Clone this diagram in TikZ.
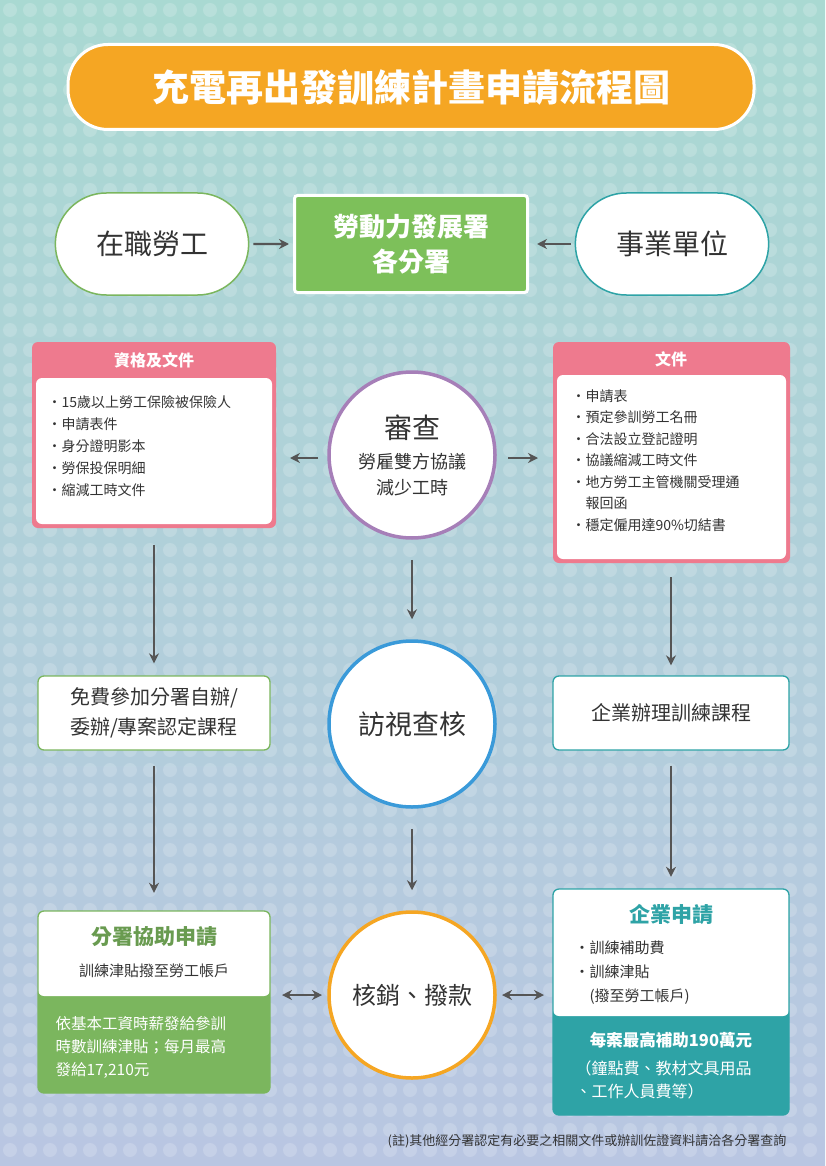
\documentclass[tikz,border=0pt]{standalone}
\usepackage{fontspec}
\setmainfont{Noto Sans CJK TC}
\usetikzlibrary{arrows.meta,shapes.misc}
\definecolor{bgtop}{HTML}{A9D9D2}
\definecolor{bgbot}{HTML}{B9C6E2}
\definecolor{org}{HTML}{F5A623}
\definecolor{grn}{HTML}{7BB65E}
\definecolor{grnf}{HTML}{7DC05A}
\definecolor{tealc}{HTML}{2EA3A6}
\definecolor{pinkc}{HTML}{EE7A8E}
\definecolor{purp}{HTML}{A67FB8}
\definecolor{bluec}{HTML}{3A9AD9}
\definecolor{txt}{HTML}{333333}
\definecolor{arr}{HTML}{555555}
\begin{document}
\begin{tikzpicture}[x=1pt,y=-1pt,
  conn/.style={draw=arr,line width=2.2pt,-{Stealth[length=10pt,width=10pt]}},
  dconn/.style={draw=arr,line width=2.2pt,{Stealth[length=10pt,width=10pt]}-{Stealth[length=10pt,width=10pt]}},
  circ/.style={circle,fill=white,line width=3.5pt,minimum size=166pt,inner sep=0pt,align=center,text=txt},
  pill/.style={rounded rectangle,fill=white,line width=1.5pt,minimum width=200pt,minimum height=102pt,font=\fontsize{28}{30}\selectfont,text=txt},
  box/.style={fill=white,rounded corners=6pt,line width=1.3pt,align=center,text=txt},
  lst/.style={align=left,text=txt,font=\fontsize{14}{22}\selectfont,anchor=north west}]
\shade[top color=bgtop,bottom color=bgbot] (0,0) rectangle (825,1166);
\useasboundingbox (0,0) rectangle (825,1166);
\foreach \i in {0,...,40}{\foreach \j in {0,...,57}{
  \fill[white,opacity=0.18] (\i*20+10,\j*20+10) circle (7pt);}}
% title
\node[fill=org,draw=white,line width=3pt,rounded corners=40pt,minimum width=686pt,minimum height=85pt,text=white,font=\fontsize{37}{40}\selectfont\bfseries] (title) at (411,87) {充電再出發訓練計畫申請流程圖};
% top row
\node[pill,draw=grn] (worker) at (152,244) {在職勞工};
\node[fill=grnf,draw=white,line width=3pt,rounded corners=3pt,minimum width=233pt,minimum height=97pt,text=white,align=center,font=\fontsize{26}{35}\selectfont\bfseries] (wda) at (411,244) {勞動力發展署\\各分署};
\node[pill,draw=tealc] (firm) at (672,244) {事業單位};
\draw[conn,shorten <=4pt,shorten >=4pt] (worker) -- (wda);
\draw[conn,shorten <=4pt,shorten >=8pt] (firm) -- (wda);
% left doc box
\fill[pinkc,rounded corners=6pt] (32,342) rectangle (276,528);
\fill[white,rounded corners=6pt] (36,378) rectangle (272,524);
\node[text=white,font=\fontsize{16}{18}\selectfont\bfseries] (lh) at (154,360) {資格及文件};
\node[lst] (ll) at (44,392) {・15歲以上勞工保險被保險人\\・申請表件\\・身分證明影本\\・勞保投保明細\\・縮減工時文件};
% right doc box
\fill[pinkc,rounded corners=6pt] (553,342) rectangle (790,563);
\fill[white,rounded corners=6pt] (557,375) rectangle (786,559);
\node[text=white,font=\fontsize{16}{18}\selectfont\bfseries] (rh) at (671,359) {文件};
\node[lst,font=\fontsize{14}{21.5}\selectfont] (rl) at (568,386) {・申請表\\・預定參訓勞工名冊\\・合法設立登記證明\\・協議縮減工時文件\\・地方勞工主管機關受理通\\\phantom{・}報回函\\・穩定僱用達90\%切結書};
% review circle
\node[circ,draw=purp] (rev) at (412,455) {\fontsize{28}{30}\selectfont 審查\\[12pt]\fontsize{18}{27}\selectfont 勞雇雙方協議\\[8pt]\fontsize{18}{27}\selectfont 減少工時};
\coordinate (lA) at (290,458); \coordinate (lB) at (318,458);
\coordinate (rA) at (508,458); \coordinate (rB) at (538,458);
\draw[conn] (lB) -- (lA);
\draw[conn] (rA) -- (rB);
% middle row
\node[box,draw=grn,minimum width=232pt,minimum height=74pt,font=\fontsize{20}{30}\selectfont] (free) at (154,713) {免費參加分署自辦/\\委辦/專案認定課程};
\node[circ,draw=bluec,font=\fontsize{27}{30}\selectfont] (visit) at (412,724) {訪視查核};
\node[box,draw=tealc,minimum width=236pt,minimum height=74pt,font=\fontsize{20}{24}\selectfont] (course) at (671,713) {企業辦理訓練課程};
\coordinate (l1) at (154,545); \coordinate (r1) at (671,577);
\draw[conn,shorten >=12pt] (l1) -- (free.north);
\draw[conn,shorten <=20pt,shorten >=20pt] (rev) -- (visit);
\draw[conn,shorten >=10pt] (r1) -- (course.north);
% bottom left
\fill[grn,rounded corners=6pt] (38,911) rectangle (270,1093);
\fill[white,rounded corners=6pt] (38,911) rectangle (270,996);
\draw[grn,line width=1.3pt,rounded corners=6pt] (38,911) rectangle (270,1093);
\node[text=grn!85!black,font=\fontsize{21}{24}\selectfont\bfseries] (ah) at (154,937) {分署協助申請};
\node[text=txt,font=\fontsize{15}{18}\selectfont] (as) at (154,971) {訓練津貼撥至勞工帳戶};
\node[text=white,align=left,anchor=north west,font=\fontsize{15.5}{23}\selectfont] (at) at (52,1013) {依基本工資時薪發給參訓\\時數訓練津貼；每月最高\\發給17,210元};
\node[inner sep=0pt,minimum width=232pt,minimum height=182pt] (abox) at (154,1002) {};
% bottom center
\node[circ,draw=org,font=\fontsize{24}{28}\selectfont] (pay) at (412,995) {核銷、撥款};
\draw[conn,shorten <=20pt,shorten >=20pt] (visit) -- (pay);
\draw[conn,shorten <=15pt,shorten >=18pt] (free.south) -- (abox.north);
% bottom right
\fill[tealc,rounded corners=6pt] (553,889) rectangle (789,1115);
\fill[white,rounded corners=6pt] (553,889) rectangle (789,1016);
\draw[tealc,line width=1.3pt,rounded corners=6pt] (553,889) rectangle (789,1115);
\node[text=tealc,font=\fontsize{21}{24}\selectfont\bfseries] (bh) at (671,914) {企業申請};
\node[lst,font=\fontsize{15}{24}\selectfont] (bl) at (571,937) {・訓練補助費\\・訓練津貼\\\phantom{・}(撥至勞工帳戶)};
\node[text=white,font=\fontsize{16.5}{20}\selectfont\bfseries] (bt) at (671,1040) {每案最高補助190萬元};
\node[text=white,align=left,anchor=north west,font=\fontsize{16}{23}\selectfont] (bt2) at (572,1057) {（鐘點費、教材文具用品\\、工作人員費等）};
\node[inner sep=0pt,minimum width=236pt,minimum height=226pt] (bbox) at (671,1002) {};
\draw[conn,shorten <=15pt,shorten >=12pt] (course.south) -- (bbox.north);
\coordinate (p1) at (282,995); \coordinate (p2) at (322,995);
\coordinate (p3) at (502,995); \coordinate (p4) at (544,995);
\draw[dconn] (p1) -- (p2);
\draw[dconn] (p3) -- (p4);
\node[anchor=east,text=txt,font=\fontsize{13}{15}\selectfont] (note) at (790,1141) {(註)其他經分署認定有必要之相關文件或辦訓佐證資料請洽各分署查詢};
\end{tikzpicture}
\end{document}
